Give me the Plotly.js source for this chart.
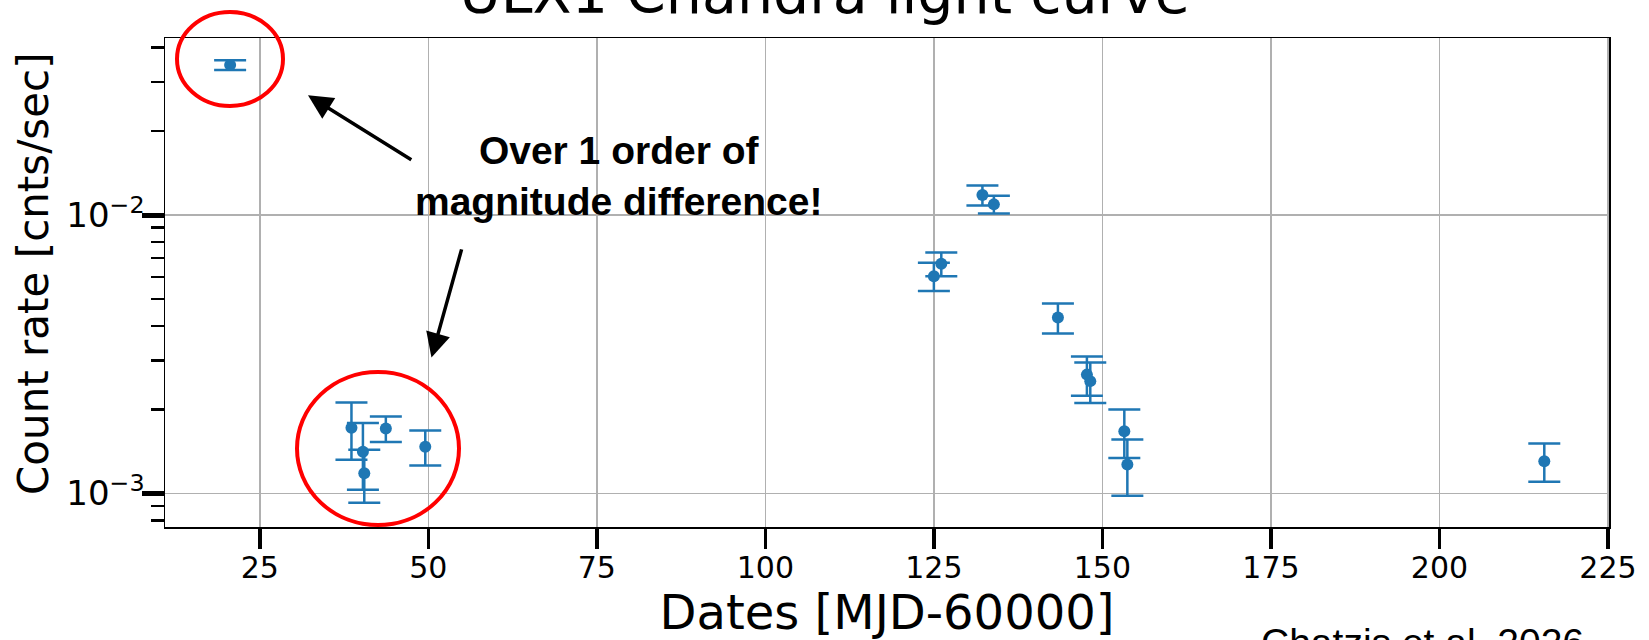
<!DOCTYPE html>
<html>
<head>
<meta charset="utf-8">
<script src="https://cdn.plot.ly/plotly-3.0.1.min.js"></script>
<style>html,body{margin:0;padding:0;background:#fff;}#chart{width:1649px;height:640px;}</style>
</head>
<body>
<div id="chart"></div>
<script>
// Observation dates (MJD-60000)
const dates = [20.6, 38.6, 40.3, 40.5, 43.7, 49.55, 125.0, 126.1, 132.2, 133.9, 143.4, 147.7, 148.2, 153.25, 153.7, 215.55];
// Count rates (cnts/sec)
const rates = [0.0346, 0.00172, 0.00141, 0.00118, 0.00171, 0.00147, 0.00603, 0.00668, 0.01179, 0.01092, 0.00428, 0.00267, 0.00253, 0.00167, 0.00127, 0.001305];
// 1-sigma errors
const rateErr = [0.0014, 0.00040, 0.00038, 0.000255, 0.00018, 0.00021, 0.00070, 0.00065, 0.00097, 0.00080, 0.00053, 0.00043, 0.00042, 0.00033, 0.00029, 0.000205];

const xTickVals = [25, 50, 75, 100, 125, 150, 175, 200, 225];
const yTickVals = [0.001, 0.01];
const yTickText = ['10<sup>\u22123</sup>', '10<sup>\u22122</sup>'];
const yMinorTicks = [0.0008, 0.0009, 0.002, 0.003, 0.004, 0.005, 0.006, 0.007, 0.008, 0.009, 0.02, 0.03, 0.04];

const titleText = 'ULX1 Chandra light curve';
const xTitle = 'Dates [MJD-60000]';
const yTitle = 'Count rate [cnts/sec]';
const noteText = '<b>Over 1 order of<br>magnitude difference!</b>';
const creditText = 'Chatzis et al. 2026';

// plot-area geometry (pixels)
const L = 165, R = 40, T = 38, B = 113, FW = 1649, FH = 640;
const PW = FW - L - R, PH = FH - T - B;
const px = v => (v - L) / PW;
const py = v => (FH - B - v) / PH;

const blue = '#1f77b4';

const trace = {
  x: dates, y: rates, type: 'scatter', mode: 'markers',
  marker: {color: blue, size: 12},
  error_y: {type: 'data', array: rateErr, visible: true, color: blue, thickness: 2.5, width: 16},
  showlegend: false
};

const layout = {
  width: FW, height: FH,
  margin: {l: L, r: R, t: T, b: B, pad: 0},
  paper_bgcolor: '#fff', plot_bgcolor: '#fff',
  font: {family: 'DejaVu Sans', color: '#000'},
  title: {text: titleText, font: {family: 'DejaVu Sans', size: 57, color: '#000'},
          xref: 'container', x: 0.5, xanchor: 'center', yref: 'container', y: 0.98, yanchor: 'bottom'},
  xaxis: {
    range: [10.94, 225.15], tickmode: 'array', tickvals: xTickVals,
    ticks: 'outside', ticklen: 20, tickwidth: 3.5, tickcolor: '#000', ticklabelstandoff: -7,
    tickfont: {family: 'DejaVu Sans', size: 30, color: '#000'},
    showgrid: true, gridcolor: '#b0b0b0', gridwidth: 1.5,
    showline: true, linecolor: '#000', linewidth: 1.5, mirror: true, zeroline: false,
    title: {text: xTitle, font: {family: 'DejaVu Sans', size: 48, color: '#000'}, standoff: 8},
    automargin: false
  },
  yaxis: {
    type: 'log', range: [-3.121, -1.364], tickmode: 'array', tickvals: yTickVals, ticktext: yTickText,
    ticks: 'outside', ticklen: 22, tickwidth: 5, tickcolor: '#000', ticklabelstandoff: -10,
    tickfont: {family: 'DejaVu Sans', size: 34, color: '#000'},
    showgrid: true, gridcolor: '#b0b0b0', gridwidth: 1.5,
    showline: true, linecolor: '#000', linewidth: 1.5, mirror: true, zeroline: false,
    minor: {tickmode: 'array', tickvals: yMinorTicks, ticks: 'outside', ticklen: 13, tickwidth: 2.5, tickcolor: '#000', showgrid: false},
    automargin: false
  },
  shapes: [
    {type: 'circle', xref: 'paper', yref: 'paper', x0: px(177), x1: px(283), y0: py(106), y1: py(12),
     line: {color: '#ff0000', width: 4}},
    {type: 'circle', xref: 'paper', yref: 'paper', x0: px(297), x1: px(459), y0: py(525), y1: py(372),
     line: {color: '#ff0000', width: 4}}
  ],
  annotations: [
    {text: yTitle, xref: 'paper', yref: 'paper', x: px(33), y: py(274), xanchor: 'center', yanchor: 'middle',
     textangle: -90, showarrow: false, font: {family: 'DejaVu Sans', size: 42, color: '#000'}},
    {text: noteText, xref: 'paper', yref: 'paper', x: px(618), y: py(176), xanchor: 'center', yanchor: 'middle',
     showarrow: false, align: 'center', font: {family: 'Liberation Sans', size: 39, color: '#000'}},
    {text: '', xref: 'x', yref: 'y', x: 32.15, y: -1.57, axref: 'x', ayref: 'y', ax: 47.7, ay: -1.805,
     showarrow: true, arrowhead: 2, arrowsize: 1.4, arrowwidth: 3.5, arrowcolor: '#000'},
    {text: '', xref: 'x', yref: 'y', x: 50.47, y: -2.512, axref: 'x', ayref: 'y', ax: 55.0, ay: -2.118,
     showarrow: true, arrowhead: 2, arrowsize: 1.4, arrowwidth: 3.5, arrowcolor: '#000'},
    {text: creditText, xref: 'paper', yref: 'paper', x: px(1259), y: py(619), xanchor: 'left', yanchor: 'top',
     showarrow: false, font: {family: 'Liberation Sans', size: 39, color: '#000'}}
  ]
};

Plotly.newPlot('chart', [trace], layout, {displayModeBar: false, staticPlot: true});
</script>
</body>
</html>
